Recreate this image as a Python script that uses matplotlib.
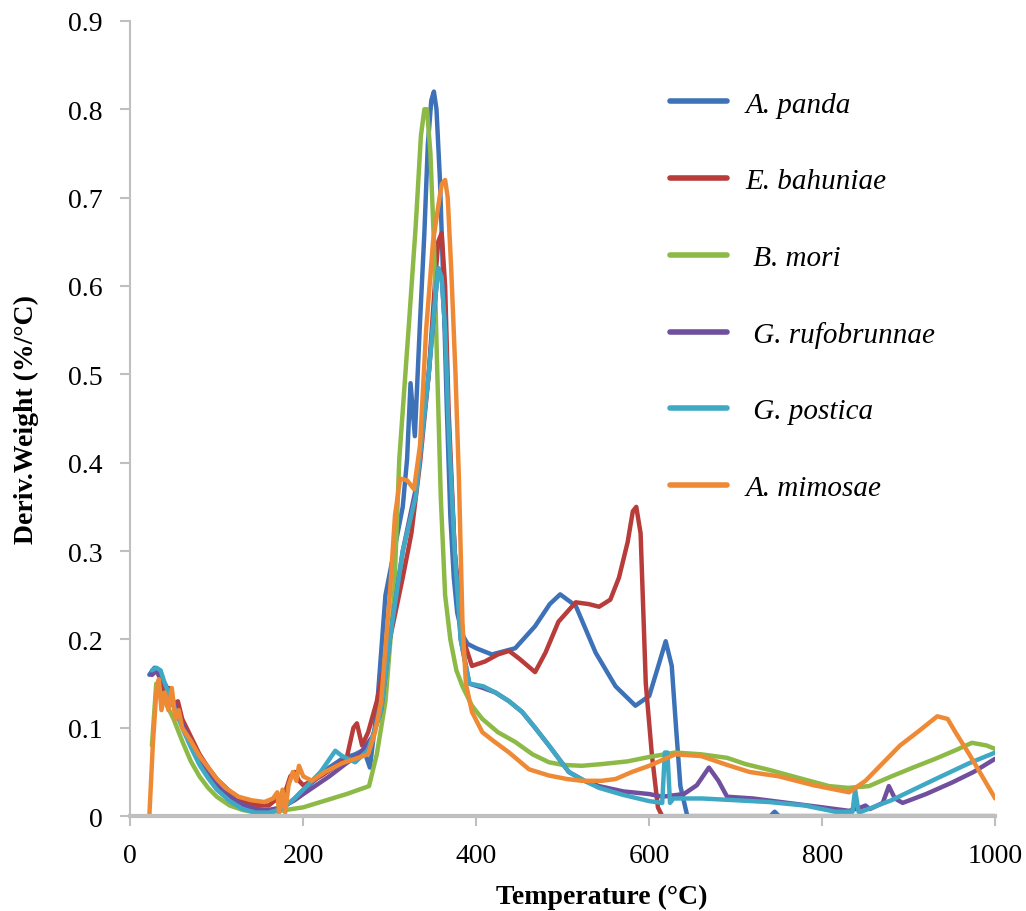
import matplotlib.pyplot as plt

plt.rcParams['font.family'] = ['Liberation Serif', 'DejaVu Serif']

# A. panda
panda_x = [22, 28, 35, 40, 45, 50, 60, 70, 80, 90, 100, 115, 130, 145, 160, 170, 180, 190, 200, 215,
           230, 245, 260, 270, 277, 285, 295, 305, 315, 320, 324, 329, 335, 340, 344, 348, 351, 354,
           358, 362, 366, 370, 374, 378, 384, 390, 400, 418, 445, 468, 485, 497, 515, 538, 561, 584,
           600, 612, 619, 626, 631, 636, 644, 700, 740, 745, 750, 800, 1000]
panda_y = [0.16, 0.168, 0.16, 0.145, 0.14, 0.125, 0.105, 0.085, 0.065, 0.05, 0.037, 0.024, 0.014,
           0.008, 0.006, 0.008, 0.012, 0.02, 0.03, 0.042, 0.055, 0.065, 0.07, 0.075, 0.055, 0.12,
           0.25, 0.30, 0.35, 0.404, 0.49, 0.43, 0.56, 0.66, 0.76, 0.81, 0.82, 0.80, 0.72, 0.6, 0.46,
           0.34, 0.27, 0.23, 0.205, 0.195, 0.19, 0.183, 0.19, 0.215, 0.24, 0.251, 0.238, 0.185,
           0.147, 0.125, 0.136, 0.175, 0.198, 0.17, 0.1, 0.034, 0, 0, 0, 0.005, 0, 0, 0]

# E. bahuniae
bahun_x = [25, 30, 35, 40, 45, 50, 55, 60, 70, 80, 90, 100, 115, 130, 145, 160, 170, 180, 185, 190,
           195, 200, 210, 220, 235, 250, 258, 262, 268, 275, 285, 300, 315, 325, 335, 345, 352, 356,
           360, 364, 368, 375, 385, 395, 410, 425, 438, 450, 468, 480, 495, 515, 530, 542, 555, 565,
           575, 581, 585, 590, 596, 603, 610, 615, 1000]
bahun_y = [0.16, 0.165, 0.155, 0.14, 0.145, 0.125, 0.13, 0.11, 0.09, 0.07, 0.055, 0.042, 0.028,
           0.018, 0.013, 0.012, 0.02, 0.03, 0.045, 0.05, 0.04, 0.035, 0.04, 0.045, 0.055, 0.065, 0.1,
           0.105, 0.08, 0.095, 0.13, 0.2, 0.27, 0.32, 0.4, 0.5, 0.6, 0.65, 0.66, 0.6, 0.46, 0.3, 0.2,
           0.17, 0.175, 0.183, 0.187, 0.178, 0.163, 0.185, 0.22, 0.242, 0.24, 0.237, 0.245, 0.27,
           0.31, 0.345, 0.35, 0.32, 0.15, 0.07, 0.01, 0, 0]

# B. mori
mori_x = [25, 30, 40, 50, 60, 70, 80, 90, 100, 115, 130, 146, 160, 180, 200, 230, 250, 276, 285, 295,
          305, 311, 322, 330, 336, 340, 343, 347, 351, 355, 359, 364, 370, 377, 384, 395, 407, 425,
          445, 465, 484, 500, 522, 546, 575, 600, 630, 660, 690, 711, 740, 770, 808, 830, 854, 880,
          905, 931, 955, 973, 990, 1000]
mori_y = [0.08, 0.15, 0.13, 0.11, 0.085, 0.062, 0.045, 0.032, 0.022, 0.012, 0.007, 0.004, 0.004,
          0.007, 0.01, 0.019, 0.025, 0.034, 0.07, 0.13, 0.25, 0.404, 0.555, 0.668, 0.77, 0.80, 0.80,
          0.75, 0.65, 0.5, 0.36, 0.25, 0.2, 0.165, 0.147, 0.125, 0.11, 0.095, 0.084, 0.07, 0.061,
          0.058, 0.057, 0.059, 0.062, 0.067, 0.072, 0.07, 0.066, 0.059, 0.052, 0.044, 0.034, 0.032,
          0.034, 0.045, 0.055, 0.065, 0.075, 0.083, 0.08, 0.076]

# G. rufobrunnae
rufo_x = [25, 30, 40, 50, 60, 70, 80, 90, 100, 115, 130, 145, 160, 175, 190, 200, 215, 230, 250, 265,
          280, 290, 300, 315, 330, 345, 352, 356, 360, 364, 368, 375, 382, 392, 408, 422, 438, 453,
          468, 484, 507, 525, 542, 570, 600, 615, 640, 655, 669, 680, 690, 720, 760, 800, 831, 845,
          850, 855, 870, 877, 884, 893, 920, 950, 975, 1000]
rufo_y = [0.16, 0.165, 0.15, 0.13, 0.105, 0.083, 0.063, 0.047, 0.035, 0.022, 0.013, 0.008, 0.007,
          0.01, 0.018, 0.025, 0.035, 0.045, 0.06, 0.07, 0.09, 0.12, 0.2, 0.3, 0.37, 0.5, 0.58, 0.62,
          0.61, 0.55, 0.44, 0.3, 0.2, 0.15, 0.145, 0.14, 0.13, 0.118, 0.1, 0.08, 0.05, 0.04, 0.034,
          0.028, 0.025, 0.022, 0.025, 0.035, 0.055, 0.04, 0.022, 0.02, 0.015, 0.01, 0.006, 0.01,
          0.012, 0.008, 0.015, 0.034, 0.02, 0.015, 0.025, 0.038, 0.05, 0.065]

# G. postica
post_x = [25, 30, 35, 40, 50, 60, 70, 80, 90, 100, 115, 130, 145, 160, 175, 190, 205, 220, 237, 245,
          260, 275, 290, 300, 315, 330, 345, 352, 356, 360, 364, 368, 375, 382, 392, 408, 422, 438,
          453, 468, 484, 507, 525, 542, 570, 600, 615, 618, 621, 624, 628, 661, 700, 738, 780, 815,
          835, 838, 842, 845, 880, 931, 970, 1000]
post_y = [0.165, 0.168, 0.165, 0.15, 0.125, 0.1, 0.078, 0.058, 0.043, 0.03, 0.017, 0.008, 0.004,
          0.004, 0.008, 0.02, 0.035, 0.05, 0.074, 0.068, 0.061, 0.075, 0.12, 0.2, 0.3, 0.362, 0.5,
          0.58, 0.62, 0.61, 0.55, 0.44, 0.3, 0.2, 0.15, 0.147, 0.14, 0.13, 0.118, 0.1, 0.08, 0.05,
          0.04, 0.032, 0.024, 0.017, 0.015, 0.072, 0.072, 0.015, 0.02, 0.02, 0.018, 0.016, 0.012,
          0.005, 0.005, 0.03, 0.005, 0.005, 0.018, 0.042, 0.06, 0.072]

# A. mimosae
mimo_x = [22, 26, 30, 33, 36, 40, 44, 48, 52, 56, 60, 70, 80, 90, 100, 110, 125, 140, 155, 165, 170,
          172, 176, 179, 183, 188, 192, 195, 200, 210, 225, 245, 260, 275, 283, 290, 300, 306, 312,
          320, 328, 335, 342, 350, 356, 360, 364, 367, 371, 376, 380, 384, 388, 395, 407, 420, 438,
          461, 484, 505, 522, 545, 561, 580, 600, 630, 660, 690, 716, 750, 790, 831, 850, 870, 890,
          910, 933, 945, 954, 970, 985, 1000]
mimo_y = [0.0, 0.08, 0.14, 0.155, 0.12, 0.14, 0.12, 0.145, 0.11, 0.12, 0.1, 0.085, 0.068, 0.055,
          0.042, 0.032, 0.022, 0.018, 0.016, 0.02, 0.027, 0.004, 0.03, 0.004, 0.035, 0.05, 0.04,
          0.057, 0.045, 0.04, 0.05, 0.06, 0.065, 0.07, 0.095, 0.13, 0.25, 0.34, 0.382, 0.38, 0.37,
          0.42, 0.55, 0.65, 0.69, 0.715, 0.72, 0.70, 0.62, 0.5, 0.38, 0.22, 0.15, 0.118, 0.095,
          0.085, 0.072, 0.053, 0.046, 0.042, 0.04, 0.04, 0.042, 0.05, 0.057, 0.07, 0.068, 0.058,
          0.05, 0.045, 0.035, 0.027, 0.04, 0.06, 0.08, 0.095, 0.113, 0.11, 0.095, 0.07, 0.045, 0.02]

series = [
    ("A. panda", panda_x, panda_y, "#3D72B8"),
    ("E. bahuniae", bahun_x, bahun_y, "#B83C3A"),
    (" B. mori", mori_x, mori_y, "#8DB946"),
    (" G. rufobrunnae", rufo_x, rufo_y, "#6F4F9E"),
    (" G. postica", post_x, post_y, "#3FA9C5"),
    ("A. mimosae", mimo_x, mimo_y, "#EE8A35"),
]

fig = plt.figure(figsize=(10.26, 9.12), dpi=100)
ax = fig.add_axes([0.127, 0.104, 0.843, 0.872])

for name, xs, ys, col in series:
    ax.plot(xs, ys, color=col, lw=3.2, label=name, solid_joinstyle='round', solid_capstyle='round')

ax.set_xlim(0, 1000)
ax.set_ylim(0, 0.9)
ax.set_xticks(range(0, 1001, 200))
ax.set_yticks([i / 10 for i in range(10)])
ax.set_yticklabels(["0"] + [f"{i / 10:.1f}" for i in range(1, 10)])

for side in ["top", "right"]:
    ax.spines[side].set_visible(False)
ax.spines["left"].set_color("#BFBFBF")
ax.spines["left"].set_linewidth(1.5)
ax.spines["bottom"].set_color("#BFBFBF")
ax.spines["bottom"].set_linewidth(3)
ax.tick_params(axis="both", colors="#BFBFBF", labelcolor="black", labelsize=20, length=7, width=1.5)
ax.tick_params(axis="x", pad=12)
ax.tick_params(axis="y", pad=13)

ax.set_xlabel("Temperature (°C)", fontsize=20, fontweight="bold")
ax.xaxis.set_label_coords(0.545, -0.085)
ax.set_ylabel("Deriv.Weight (%/°C)", fontsize=20, fontweight="bold")
ax.yaxis.set_label_coords(-0.105, 0.5)

leg = ax.legend(loc="upper left", bbox_to_anchor=(0.607, 0.93), frameon=False,
                prop={"style": "italic", "size": 21}, handlelength=1.95, handletextpad=0.65,
                labelspacing=1.72, borderpad=0)
for line in leg.get_lines():
    line.set_linewidth(4)

fig.savefig("out.png", dpi=100)
